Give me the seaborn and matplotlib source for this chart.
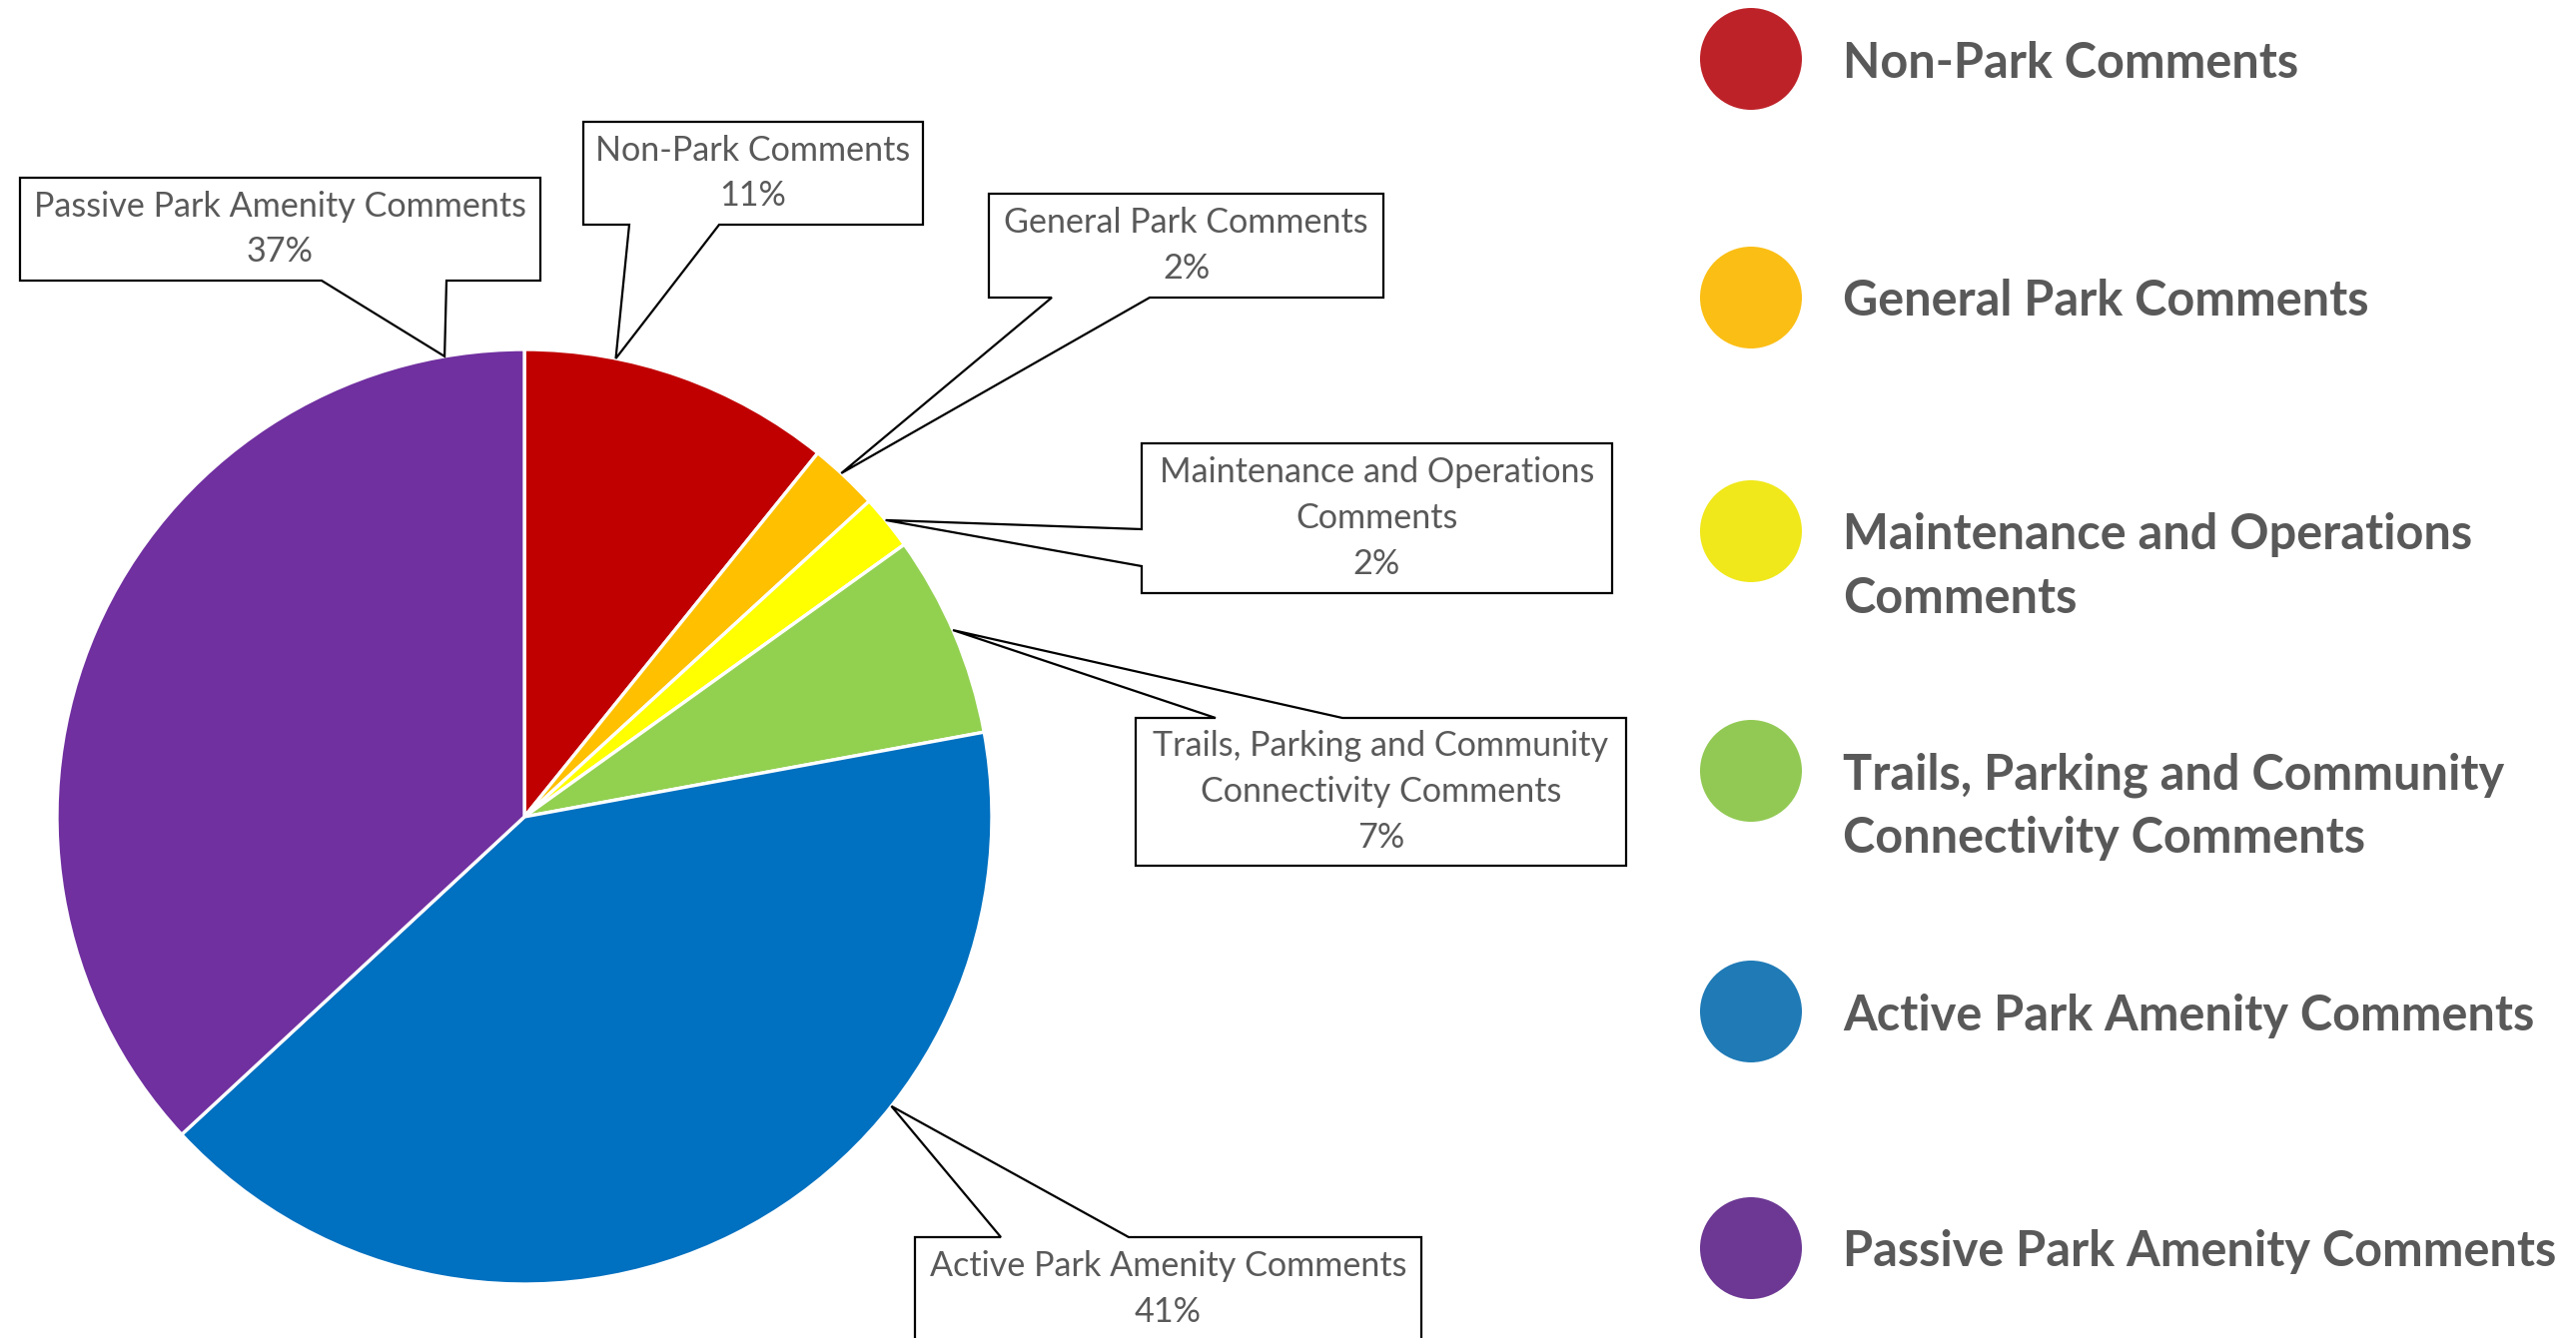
import numpy as np
import matplotlib
matplotlib.use('Agg')
import matplotlib.pyplot as plt
import seaborn as sns
from matplotlib.patches import Polygon, Circle

# slice data (clockwise from 12 o'clock)
categories = ['Non-Park Comments', 'General Park Comments',
              'Maintenance and Operations\nComments',
              'Trails, Parking and Community\nConnectivity Comments',
              'Active Park Amenity Comments', 'Passive Park Amenity Comments']
shares = [10.8, 2.4, 1.9, 7.0, 41.0, 36.9]
pie_colors = ['#C00000', '#FFC000', '#FFFF00', '#92D050', '#0070C0', '#7030A0']
legend_colors = ['#BE2229', '#FBBE14', '#F0E81A', '#92C954', '#1F7AB6', '#6C3893']

sns.set_theme(style='white')
plt.rcParams['font.family'] = ['Lato', 'DejaVu Sans']

W, H = 2579, 1340
fig = plt.figure(figsize=(W / 100, H / 100), dpi=100)

# pie axes: centre (525, 818) px from top-left, radius 468 px
cx, cy, r = 525, 818, 468
ax_pie = fig.add_axes([(cx - r) / W, (H - cy - r) / H, 2 * r / W, 2 * r / H])
wedges, _ = ax_pie.pie(shares, colors=pie_colors, startangle=90, counterclock=False,
                       radius=1, wedgeprops=dict(edgecolor='white', linewidth=2.4))
ax_pie.set_xlim(-1, 1)
ax_pie.set_ylim(-1, 1)
ax_pie.set_aspect('equal')
ax_pie.axis('off')

# overlay in pixel coordinates (y down)
ov = fig.add_axes([0, 0, 1, 1], zorder=5)
ov.set_xlim(0, W)
ov.set_ylim(H, 0)
ov.axis('off')

# callout layout: box (x0, y0, x1, y1), side of pointer, pointer base, position along wedge
callouts = [
    ((584, 122, 924, 225), 'bottom', (630, 720), 0.29),
    ((990, 194, 1385, 298), 'bottom', (1053, 1151), 0.44),
    ((1143, 444, 1614, 594), 'left', (530, 567), 0.45),
    ((1137, 719, 1628, 867), 'top', (1217, 1344), 0.48),
    ((916, 1239, 1423, 1343), 'top', (1002, 1130), 0.33),
    ((20, 178, 541, 281), 'bottom', (322, 447), 0.926),
]

text_color = '#595959'
for w, name, share, (box, side, base, frac) in zip(wedges, categories, shares, callouts):
    ang = np.deg2rad(w.theta2 - frac * (w.theta2 - w.theta1))
    px, py = ax_pie.transData.transform((np.cos(ang), np.sin(ang)))
    tip = (px, H - py)
    x0, y0, x1, y1 = box
    b1, b2 = base
    if side == 'bottom':
        pts = [(x0, y0), (x1, y0), (x1, y1), (b2, y1), tip, (b1, y1), (x0, y1)]
    elif side == 'top':
        pts = [(x0, y0), (b1, y0), tip, (b2, y0), (x1, y0), (x1, y1), (x0, y1)]
    else:
        pts = [(x0, y0), (x1, y0), (x1, y1), (x0, y1), (x0, b2), tip, (x0, b1)]
    ov.add_patch(Polygon(pts, closed=True, facecolor='white', edgecolor='black',
                         linewidth=1.6, joinstyle='miter'))
    ov.text((x0 + x1) / 2, (y0 + y1) / 2, f"{name}\n{int(round(share))}%",
            ha='center', va='center', fontsize=24.6, color=text_color, linespacing=1.52)

# legend
leg_y = [59, 298, 532, 772, 1013, 1250]
for name, col, ly in zip(categories, legend_colors, leg_y):
    ov.add_patch(Circle((1753, ly), 51, facecolor=col, edgecolor='none'))
    for i, line in enumerate(name.split('\n')):
        ov.text(1845, ly + i * 64, line, ha='left', va='center_baseline',
                fontsize=35, fontweight='bold', color=text_color)

fig.savefig('out.png', dpi=100, facecolor='white')
